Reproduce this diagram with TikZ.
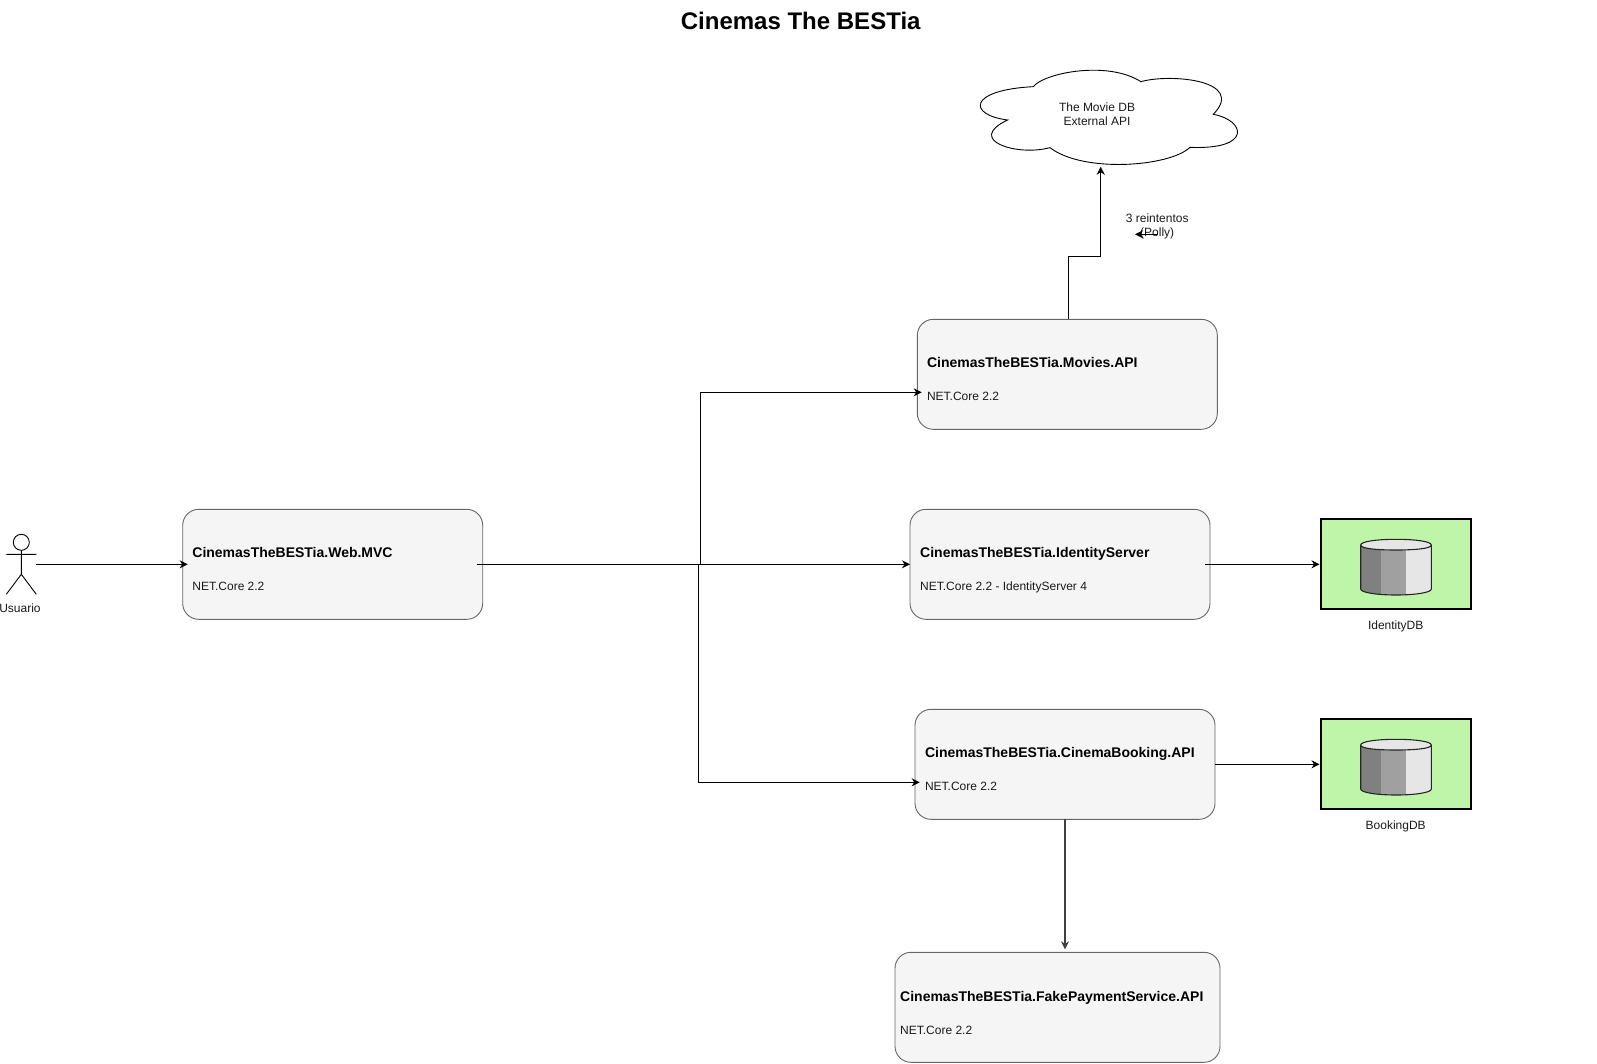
\documentclass[tikz,border=0pt]{standalone}
\usepackage{fontspec}
\setmainfont{Liberation Sans}
\usetikzlibrary{arrows.meta,calc}
\definecolor{boxfill}{HTML}{F5F5F5}
\definecolor{boxline}{HTML}{666666}
\definecolor{dbgreen}{HTML}{BFF5A8}
\definecolor{cylA}{HTML}{808080}
\definecolor{cylB}{HTML}{A0A0A0}
\definecolor{cylC}{HTML}{E6E6E6}
\definecolor{txt}{HTML}{1A1A1A}
\tikzset{
  x=1pt,y=-1pt,
  conn/.style={line width=1pt,draw=black,-{Stealth[length=8pt,width=8pt,inset=2.5pt]}},
  appbox/.style={draw=boxline,fill=boxfill,line width=0.9pt,rounded corners=16pt,minimum height=110pt,inner sep=0pt,outer sep=0pt},
  apptitle/.style={anchor=base west,inner sep=0pt,font=\fontsize{14}{16}\selectfont\bfseries,text=black},
  appsub/.style={anchor=base west,inner sep=0pt,font=\fontsize{12}{14}\selectfont,text=txt},
  small/.style={inner sep=0pt,font=\fontsize{12}{14}\selectfont,text=txt,align=center},
  dbbox/.style={draw=black,fill=dbgreen,line width=2pt,minimum width=150pt,minimum height=90pt,inner sep=0pt,outer sep=0pt},
}
\newcommand{\cylshape}[1]{%
  \begin{scope}[shift={(0,#1)}]
    \begin{scope}
      \clip (1360.7,545) -- (1360.7,589) .. controls (1360.7,592.6) and (1377,595) .. (1396,595) .. controls (1415,595) and (1431.3,592.6) .. (1431.3,589) -- (1431.3,545) -- cycle;
      \fill[cylA] (1360,530) rectangle (1381,600);
      \fill[cylB] (1381,530) rectangle (1406,600);
      \fill[cylC] (1406,530) rectangle (1432,600);
    \end{scope}
    \draw[line width=1.1pt,draw=black!85] (1360.7,545) -- (1360.7,589) .. controls (1360.7,592.6) and (1377,595) .. (1396,595) .. controls (1415,595) and (1431.3,592.6) .. (1431.3,589) -- (1431.3,545);
    \draw[line width=1.1pt,draw=black!85,fill=cylC] (1360.7,545) .. controls (1360.7,541.4) and (1377,539.3) .. (1396,539.3) .. controls (1415,539.3) and (1431.3,541.4) .. (1431.3,545) .. controls (1431.3,548.6) and (1415,550) .. (1396,550) .. controls (1377,550) and (1360.7,548.6) .. (1360.7,545) -- cycle;
  \end{scope}}
\begin{document}
\begin{tikzpicture}
\useasboundingbox (0,0) rectangle (1597,1063);
% title
\node[inner sep=0pt,font=\fontsize{24}{28}\selectfont\bfseries] (title) at (800.7,20.5) {Cinemas The BESTia};
% cloud
\begin{scope}[shift={(940,50)},x=0.3333pt,y=-0.3333pt]
\draw[line width=0.9pt,fill=white,draw=black]
 (280,110) .. controls (310,70) and (500,30) .. (603,95)
 .. controls (690,70) and (920,90) .. (820,193)
 .. controls (915,210) and (940,300) .. (750,292)
 .. controls (690,350) and (430,370) .. (330,293)
 .. controls (230,320) and (75,270) .. (203,210)
 .. controls (83,195) and (83,120) .. (280,110) -- cycle;
\end{scope}
\node[small] (cloud) at (1097,114.5) {The Movie DB\\[0.4pt]External API};
% actor
\draw[line width=0.9pt,fill=white] (21.3,542.3) circle (8);
\draw[line width=0.9pt] (21.3,550.3) -- (21.3,574.3) -- (6.3,594.3) (21.3,574.3) -- (36.3,594.3) (6.3,554.3) -- (36.3,554.3);
\coordinate (actor) at (36.3,564.3);
\node[small] (usuario) at (20,608) {Usuario};
% boxes
\node[appbox,minimum width=300pt,anchor=north west] (web) at (182.7,509.3) {};
\node[appbox,minimum width=300pt,anchor=north west] (movies) at (917.3,319.3) {};
\node[appbox,minimum width=300pt,anchor=north west] (identity) at (910,509.3) {};
\node[appbox,minimum width=300pt,anchor=north west] (booking) at (915,709.3) {};
\node[appbox,minimum width=325pt,anchor=north west] (fake) at (895,952.3) {};
% box texts
\node[apptitle] (webt) at (192.2,557) {CinemasTheBESTia.Web.MVC};
\node[appsub] (webs) at (192.2,590) {NET.Core 2.2};
\node[apptitle] (moviest) at (926.8,367) {CinemasTheBESTia.Movies.API};
\node[appsub] (moviess) at (926.8,400) {NET.Core 2.2};
\node[apptitle] (identityt) at (920,557) {CinemasTheBESTia.IdentityServer};
\node[appsub] (identitys) at (920,590) {NET.Core 2.2 - IdentityServer 4};
\node[apptitle] (bookingt) at (924.8,757) {CinemasTheBESTia.CinemaBooking.API};
\node[appsub] (bookings) at (924.8,790) {NET.Core 2.2};
\node[apptitle] (faket) at (900,1001) {CinemasTheBESTia.FakePaymentService.API};
\node[appsub] (fakes) at (900,1034) {NET.Core 2.2};
% databases
\node[dbbox,anchor=north west] (iddb) at (1321,519.3) {};
\node[dbbox,anchor=north west] (bookdb) at (1321,719.3) {};
\cylshape{0}
\cylshape{200}
\node[small] (iddbl) at (1395.7,626.3) {IdentityDB};
\node[small] (bookdbl) at (1395.7,826.3) {BookingDB};
% retries label
\node[small] (retries) at (1157.2,226.5) {3 reintentos\\[0.4pt](Polly)};
% connectors
\coordinate (cloudtip) at (1100.7,166.7);
\coordinate (bend) at (1100.7,256.6);
\coordinate (upx) at (700.3,564.3);
\coordinate (downx) at (698.3,564.3);
\draw[conn] (actor) -- ([xshift=5pt]web.west);
\draw[conn] ([xshift=1pt]movies.north) -- ([xshift=1pt]movies.north |- bend) -- (bend) -- (cloudtip);
\draw[conn] ([xshift=0.8pt,yshift=-7.8pt]retries.center) -- ([xshift=-22.2pt,yshift=-7.8pt]retries.center);
\draw[conn] ([xshift=-6pt]web.east) -- (identity.west);
\draw[conn] (upx) |- ([xshift=4.4pt,yshift=-18pt]movies.west);
\draw[conn] (downx) |- ([xshift=4.7pt,yshift=-18pt]booking.west);
\draw[conn] ([xshift=-5pt]identity.east) -- ([xshift=-1.5pt]iddb.west);
\draw[conn] (booking.east) -- ([xshift=-1.5pt]booking.east -| bookdb.west);
\draw[conn,line width=1.3pt,draw=black!75] (1065,0 |- booking.south) -- (1065,949.3);
\end{tikzpicture}
\end{document}
